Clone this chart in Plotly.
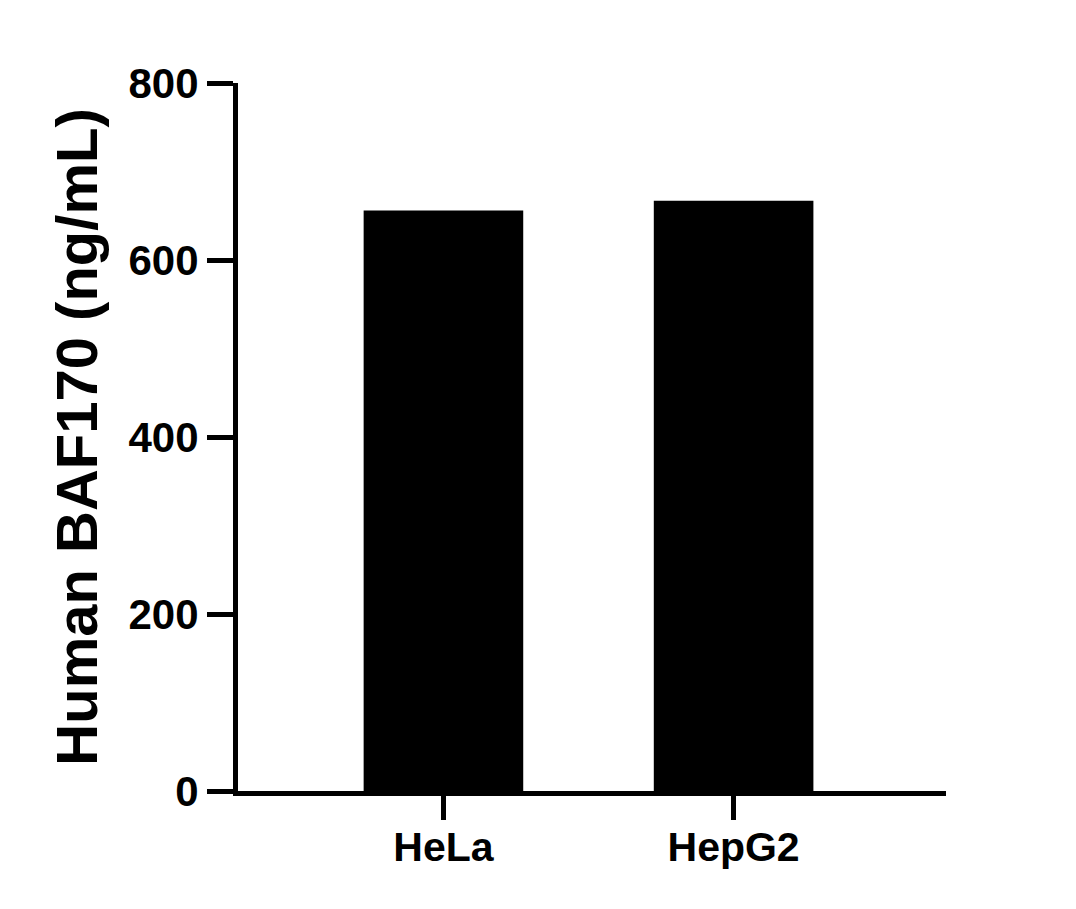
import plotly.graph_objects as go

cell_lines = ["HeLa", "HepG2"]
baf170_ng_ml = [656, 667]
y_ticks = [0, 200, 400, 600, 800]

font_family = "Liberation Sans, Arial, sans-serif"

fig = go.Figure()
fig.add_trace(go.Bar(
    x=cell_lines,
    y=baf170_ng_ml,
    marker=dict(color="black", line=dict(width=0)),
    width=0.55,
))

# page body adds an 8px margin, so the margins are shifted to compensate
fig.update_layout(
    width=1076, height=909,
    margin=dict(l=230, r=138, t=75, b=126),
    paper_bgcolor="white",
    plot_bgcolor="white",
    showlegend=False,
    font=dict(family=font_family, color="black"),
)

fig.update_xaxes(
    range=[-0.708, 1.732],
    showline=True, linecolor="black", linewidth=5,
    ticks="outside", ticklen=24, tickwidth=5, tickcolor="black",
    tickfont=dict(size=41, family=font_family, weight="bold"),
    ticklabelstandoff=-8,
    showgrid=False, zeroline=False,
)

fig.update_yaxes(
    range=[0, 800],
    tickvals=y_ticks,
    showline=True, linecolor="black", linewidth=5,
    ticks="outside", ticklen=26, tickwidth=5, tickcolor="black",
    tickfont=dict(size=42, family=font_family, weight="bold"),
    showgrid=False, zeroline=False,
    title=dict(text="Human BAF170 (ng/mL)",
               font=dict(size=58, family=font_family, weight="bold"),
               standoff=14),
)

fig.write_html("out.html")
